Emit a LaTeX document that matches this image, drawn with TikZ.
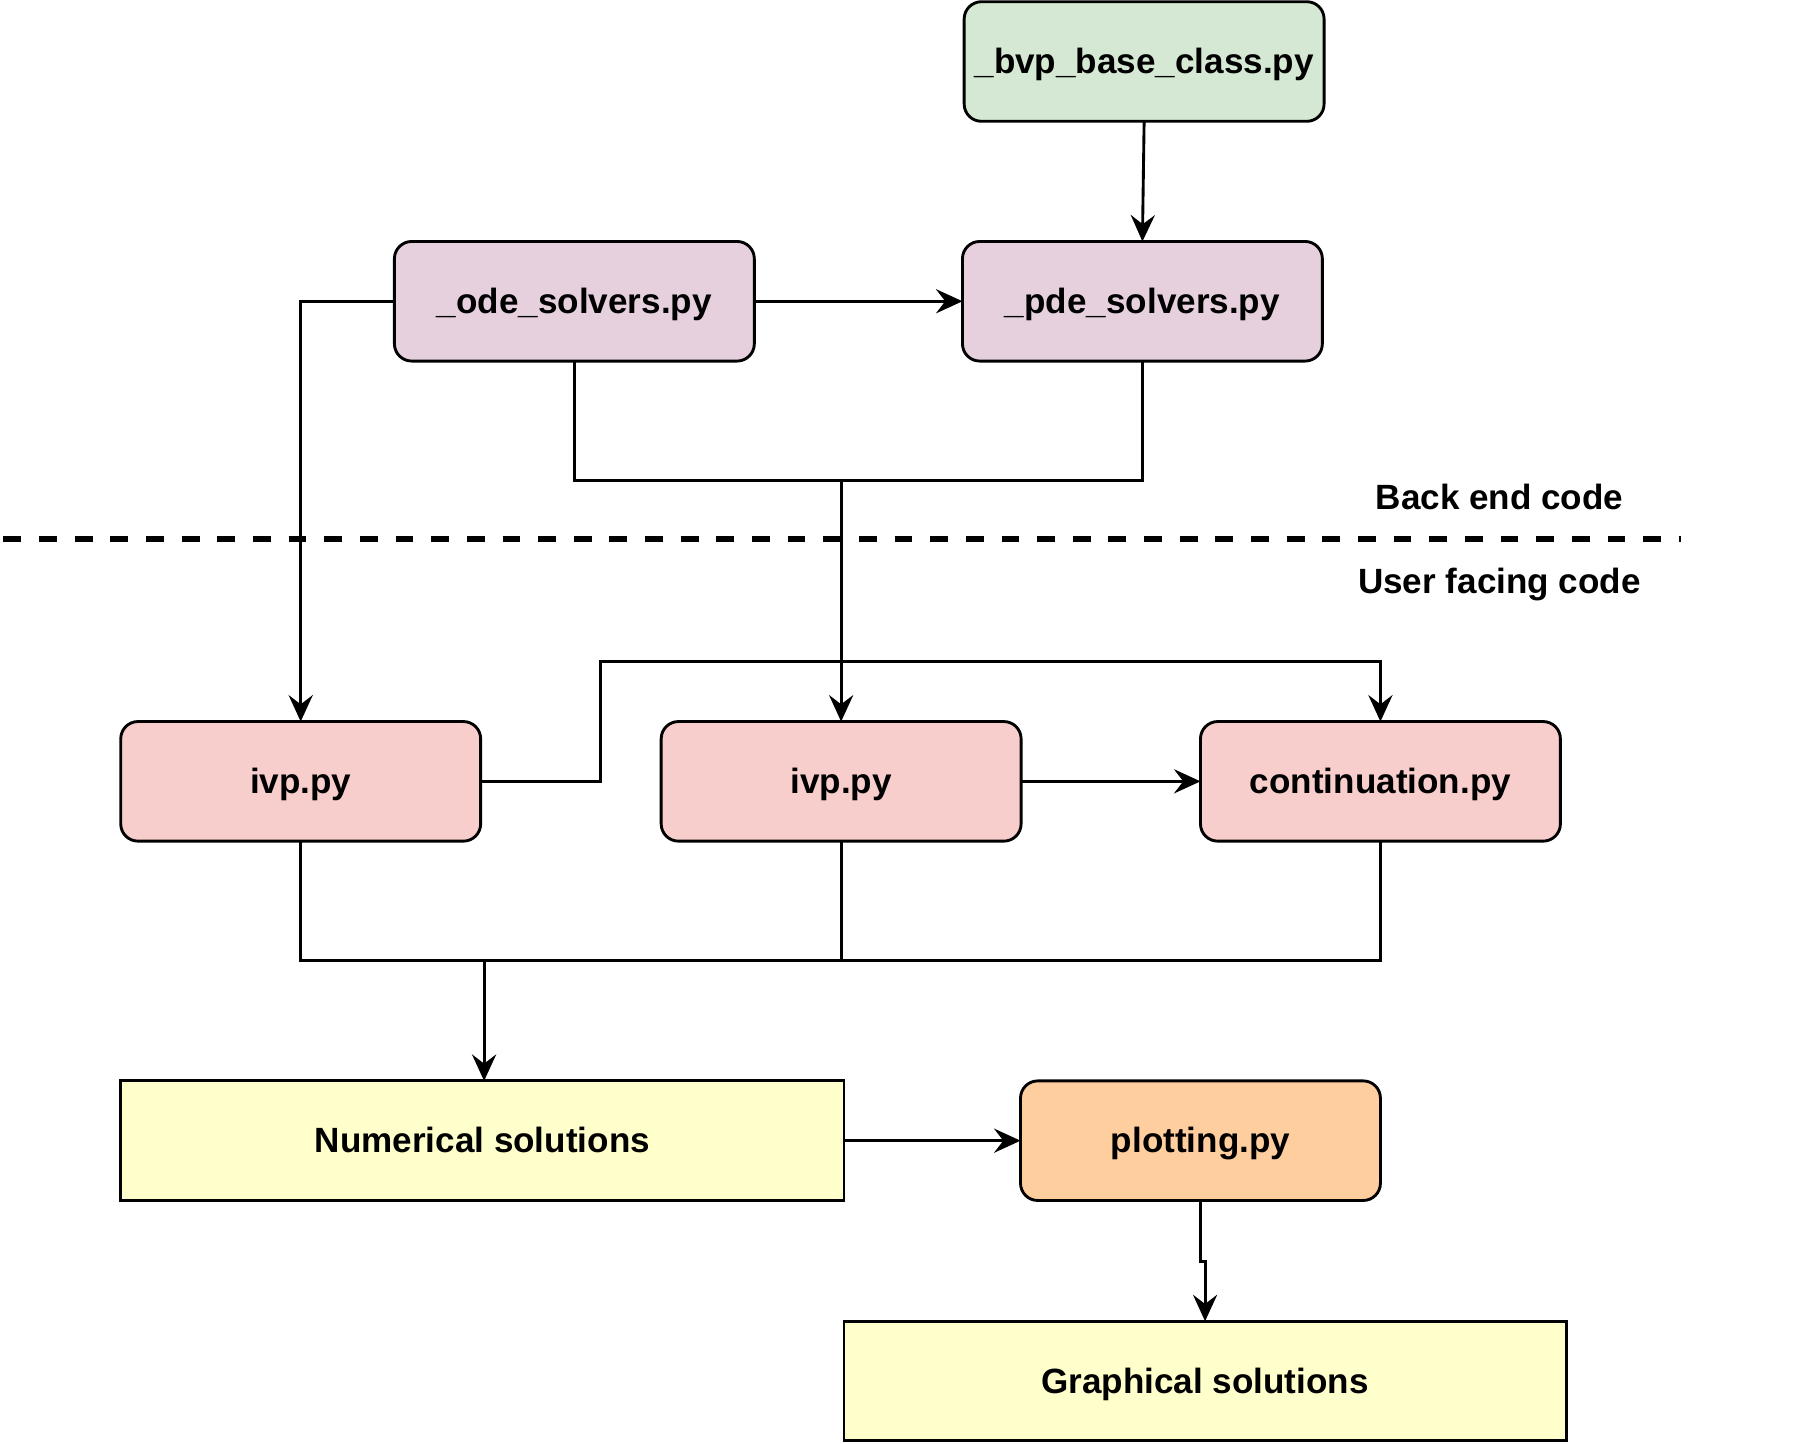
\documentclass[tikz,border=0pt]{standalone}
\usepackage{fontspec}
\setmainfont{Liberation Sans}
\usetikzlibrary{arrows.meta}
\definecolor{bvpfill}{HTML}{D5E8D4}
\definecolor{solverfill}{HTML}{E6D0DE}
\definecolor{userfill}{HTML}{F8CECC}
\definecolor{solfill}{HTML}{FFFFCC}
\definecolor{plotfill}{HTML}{FFCE9F}
\begin{document}
\begin{tikzpicture}[x=1pt,y=-1pt,
  box/.style={draw=black, line width=2.5pt, minimum width=313pt, minimum height=104pt, inner sep=0pt, outer sep=0pt, font=\fontsize{30.5}{36}\selectfont\bfseries, align=center, text height=27pt, text depth=6pt},
  rbox/.style={box, rounded corners=15pt},
  conn/.style={line width=2.5pt, draw=black},
  arr/.style={conn, -{Stealth[length=23pt,width=21pt,inset=8pt]}},
  lbl/.style={font=\fontsize{30.5}{36}\selectfont\bfseries, inner sep=0pt},
  divider/.style={line width=5.2pt, dash pattern=on 15.5pt off 15.5pt}
]
\path[use as bounding box] (0,0) rectangle (1568,1255);

\node[rbox, fill=bvpfill] (bvp) at (995,53.5) {\_bvp\_base\_class.py};
\node[rbox, fill=solverfill] (pde) at (993.5,262) {\_pde\_solvers.py};
\node[rbox, fill=solverfill] (ode) at (499.5,262) {\_ode\_solvers.py};
\node[rbox, fill=userfill] (ivp1) at (261.5,679.5) {ivp.py};
\node[rbox, fill=userfill] (ivp2) at (731.5,679.5) {ivp.py};
\node[rbox, fill=userfill] (cont) at (1200.5,679.5) {continuation.py};
\node[box, fill=solfill, minimum width=629pt] (num) at (419.5,992) {Numerical solutions};
\node[rbox, fill=plotfill] (plot) at (1044,992) {plotting.py};
\node[box, fill=solfill, minimum width=628pt] (graph) at (1048,1201) {Graphical solutions};

\node[lbl] (back) at (1304,432) {Back end code};
\node[lbl] (user) at (1304,508) {User facing code};
\coordinate (dl) at (3,468.5);
\coordinate (dr) at (1462,468.5);
\draw[divider] (dl) -- (dr);

\draw[arr] (bvp.south) -- (pde.north);
\draw[arr] (ode.east) -- (pde.west);
\draw[arr] (ode.west) -| (ivp1.north);
\coordinate (j1) at (731.5,418);
\draw[conn] (ode.south) |- (j1);
\draw[conn] (pde.south) |- (j1);
\draw[arr] (j1) -- (ivp2.north);
\coordinate (k1) at (522,575);
\draw[arr] (ivp1.east) -| (k1) -| (cont.north);
\draw[arr] (ivp2.east) -- (cont.west);
\coordinate (j2) at (421,835);
\draw[conn] (ivp1.south) |- (j2);
\draw[conn] (ivp2.south) |- (j2);
\draw[conn] (cont.south) |- (j2);
\draw[arr] (j2) -- (j2 |- num.north);
\draw[arr] (num.east) -- (plot.west);
\draw[arr] (plot.south) -- ++(0,53) -| (graph.north);
\end{tikzpicture}
\end{document}
